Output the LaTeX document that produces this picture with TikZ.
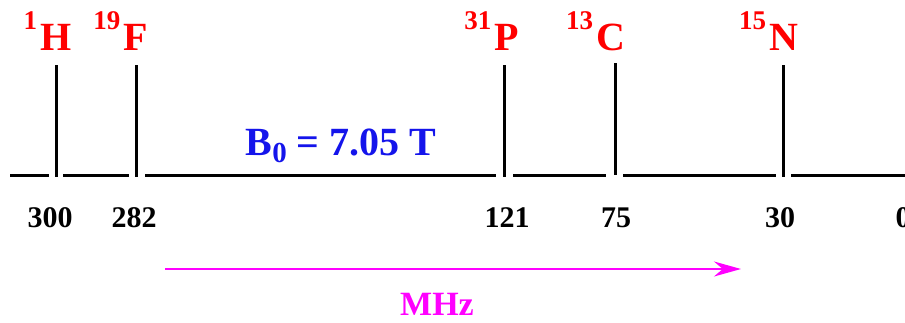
\documentclass[tikz,border=0pt]{standalone}
\usepackage{fontspec}
\setmainfont{Liberation Serif}
\usetikzlibrary{arrows.meta}
\definecolor{nred}{RGB}{255,0,0}
\definecolor{nblue}{RGB}{20,20,235}
\definecolor{nmag}{RGB}{255,0,255}
\tikzset{
  axisline/.style={line width=3pt, black},
  tickline/.style={line width=3pt, black},
  nuc/.style={inner sep=0pt, anchor=base, text=nred, font=\fontsize{40}{40}\selectfont\bfseries},
  iso/.style={inner sep=0pt, anchor=base east, text=nred, font=\fontsize{27}{27}\selectfont\bfseries},
  freq/.style={inner sep=0pt, anchor=base, text=black, font=\fontsize{30}{30}\selectfont\bfseries},
  fieldlbl/.style={inner sep=0pt, anchor=base, text=nblue, font=\fontsize{40}{40}\selectfont\bfseries},
  unitlbl/.style={inner sep=0pt, anchor=base, text=nmag, font=\fontsize{34}{34}\selectfont\bfseries},
  dirarrow/.style={line width=2pt, nmag, -{Stealth[length=27pt,width=15pt]}}
}
\begin{document}
\begin{tikzpicture}[x=1pt,y=-1pt]
\useasboundingbox (0,0) rectangle (905,322);
% baseline segments
\coordinate (a0) at (10,175);  \coordinate (a1) at (49,175);
\coordinate (a2) at (63,175);  \coordinate (a3) at (129,175);
\coordinate (a4) at (145,175); \coordinate (a5) at (496,175);
\coordinate (a6) at (513,175); \coordinate (a7) at (606,175);
\coordinate (a8) at (623,175); \coordinate (a9) at (776,175);
\coordinate (a10) at (791,175); \coordinate (a11) at (905,175);
\draw[axisline] (a0) -- (a1);
\draw[axisline] (a2) -- (a3);
\draw[axisline] (a4) -- (a5);
\draw[axisline] (a6) -- (a7);
\draw[axisline] (a8) -- (a9);
\draw[axisline] (a10) -- (a11);
% ticks
\coordinate (tHt) at (56,65);  \coordinate (tHb) at (56,177);
\coordinate (tFt) at (136,65); \coordinate (tFb) at (136,177);
\coordinate (tPt) at (504,65); \coordinate (tPb) at (504,177);
\coordinate (tCt) at (615,63); \coordinate (tCb) at (615,175);
\coordinate (tNt) at (783,65); \coordinate (tNb) at (783,177);
\draw[tickline] (tHt) -- (tHb);
\draw[tickline] (tFt) -- (tFb);
\draw[tickline] (tPt) -- (tPb);
\draw[tickline] (tCt) -- (tCb);
\draw[tickline] (tNt) -- (tNb);
% nucleus labels
\node[nuc] (H) at (56,50) {H};
\node[nuc] (F) at (136,50) {F};
\node[nuc] (P) at (507,50) {P};
\node[nuc] (C) at (611,50) {C};
\node[nuc] (N) at (784,50) {N};
\node[iso] (Hs) at ([xshift=-3pt,yshift=21pt]H.base west) {1};
\node[iso] (Fs) at ([xshift=-3pt,yshift=21pt]F.base west) {19};
\node[iso] (Ps) at ([xshift=-3pt,yshift=21pt]P.base west) {31};
\node[iso] (Cs) at ([xshift=-3pt,yshift=21pt]C.base west) {13};
\node[iso] (Ns) at ([xshift=-3pt,yshift=21pt]N.base west) {15};
% frequencies
\node[freq] (f300) at (50,227) {300};
\node[freq] (f282) at (134,227) {282};
\node[freq] (f121) at (507,227) {121};
\node[freq] (f75) at (616,227) {75};
\node[freq] (f30) at (780,227) {30};
\node[freq] (f0) at (903,227) {0};
% field
\node[fieldlbl] (B) at (341,155) {B\raisebox{-7pt}{\fontsize{29}{29}\selectfont 0} = 7.05 T};
% arrow
\coordinate (arS) at (165,269);
\coordinate (arE) at (741,269);
\draw[dirarrow] (arS) -- (arE);
\node[unitlbl] (MHz) at (437,315) {MHz};
\end{tikzpicture}
\end{document}
